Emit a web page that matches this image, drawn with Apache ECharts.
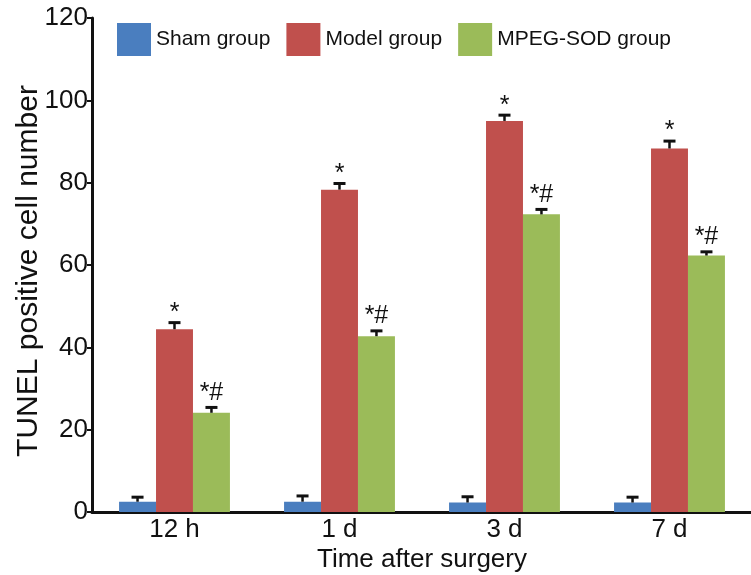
<!DOCTYPE html>
<html><head><meta charset="utf-8">
<script src="https://cdn.jsdelivr.net/npm/echarts@6/dist/echarts.min.js"></script>
<style>html,body{margin:0;padding:0;background:#fff}#c{width:751px;height:575px}</style>
</head><body><div id="c"></div>
<script>
const categories = ['12 h', '1 d', '3 d', '7 d'];
const seriesNames = ['Sham group', 'Model group', 'MPEG-SOD group'];
const shamValues = [2.5, 2.5, 2.3, 2.3];
const shamErrors = [1.1, 1.4, 1.4, 1.3];
const modelValues = [44.4, 78.3, 95.0, 88.3];
const modelErrors = [1.6, 1.5, 1.4, 1.8];
const mpegValues = [24.1, 42.7, 72.3, 62.3];
const mpegErrors = [1.3, 1.3, 1.2, 0.9];
const shamMarks = ['', '', '', ''];
const modelMarks = ['*', '*', '*', '*'];
const mpegMarks = ['*#', '*#', '*#', '*#'];
const yMin = 0, yMax = 120, yInterval = 20;

const colors = ['#4a7ebf', '#c0504d', '#9bbb59'];
const FONT = "'Liberation Sans', Arial, sans-serif";
const BAR_FRAC = 0.224;

const groups = [
  [shamValues, shamErrors, shamMarks],
  [modelValues, modelErrors, modelMarks],
  [mpegValues, mpegErrors, mpegMarks]
];
const errData = [];
const errMarks = [];
groups.forEach((g, gi) => {
  categories.forEach((c, ci) => {
    errData.push([ci, g[0][ci], g[1][ci], gi]);
    errMarks.push(g[2][ci]);
  });
});

function renderErr(params, api) {
  const ci = api.value(0), v = api.value(1), e = api.value(2), gi = api.value(3);
  const band = api.size([1, 0])[0];
  const bw = band * BAR_FRAC;
  const base = api.coord([ci, v]);
  const x = base[0] + (gi - 1) * bw;
  const top = api.coord([ci, v + e])[1];
  const y0 = base[1];
  const children = [
    { type: 'line', shape: { x1: x, y1: y0, x2: x, y2: top }, style: { stroke: '#111', lineWidth: 2.5 } },
    { type: 'line', shape: { x1: x - 6, y1: top, x2: x + 6, y2: top }, style: { stroke: '#111', lineWidth: 3 } }
  ];
  const mark = errMarks[params.dataIndex];
  if (mark) {
    const starOnly = mark === '*';
    children.push({
      type: 'text',
      style: {
        text: mark, x: x, y: starOnly ? top + 3 : top - 2, align: 'center', verticalAlign: 'bottom',
        fill: '#111', font: "25px " + FONT
      }
    });
  }
  return { type: 'group', children: children };
}

const chart = echarts.init(document.getElementById('c'), null, { renderer: 'canvas' });
chart.setOption({
  animation: false,
  backgroundColor: '#fff',
  color: colors,
  legend: {
    data: seriesNames,
    left: 117, top: 23, padding: 0,
    itemWidth: 34, itemHeight: 33, itemGap: 16,
    icon: 'rect',
    textStyle: { fontFamily: FONT, fontSize: 21, color: '#111' }
  },
  grid: { left: 92, right: -1, top: 18, bottom: 63, containLabel: false, outerBoundsMode: 'none' },
  xAxis: {
    type: 'category', data: categories,
    name: 'Time after surgery', nameLocation: 'middle', nameGap: 35, nameMoveOverlap: false,
    nameTextStyle: { fontFamily: FONT, fontSize: 26, color: '#111' },
    axisLine: { lineStyle: { color: '#111', width: 3 } },
    axisTick: { alignWithLabel: true, length: 6, lineStyle: { color: '#111', width: 2 } },
    axisLabel: { fontFamily: FONT, fontSize: 26, color: '#111', margin: 5 }
  },
  yAxis: {
    type: 'value', min: yMin, max: yMax, interval: yInterval,
    name: 'TUNEL positive cell number', nameLocation: 'middle', nameGap: 48, nameMoveOverlap: false,
    nameTextStyle: { fontFamily: FONT, fontSize: 30, color: '#111', padding: [0, 12, 0, 0] },
    axisLine: { show: true, lineStyle: { color: '#111', width: 3 } },
    axisTick: { show: true, length: 5, lineStyle: { color: '#111', width: 2 } },
    splitLine: { show: false },
    axisLabel: { fontFamily: FONT, fontSize: 26, color: '#111', margin: 4 }
  },
  series: [
    { name: seriesNames[0], type: 'bar', data: shamValues, barWidth: (BAR_FRAC * 100) + '%', barGap: '0%' },
    { name: seriesNames[1], type: 'bar', data: modelValues, barWidth: (BAR_FRAC * 100) + '%', barGap: '0%' },
    { name: seriesNames[2], type: 'bar', data: mpegValues, barWidth: (BAR_FRAC * 100) + '%', barGap: '0%' },
    { type: 'custom', renderItem: renderErr, data: errData, z: 10, silent: true, tooltip: { show: false } }
  ]
});
</script>
</body></html>
